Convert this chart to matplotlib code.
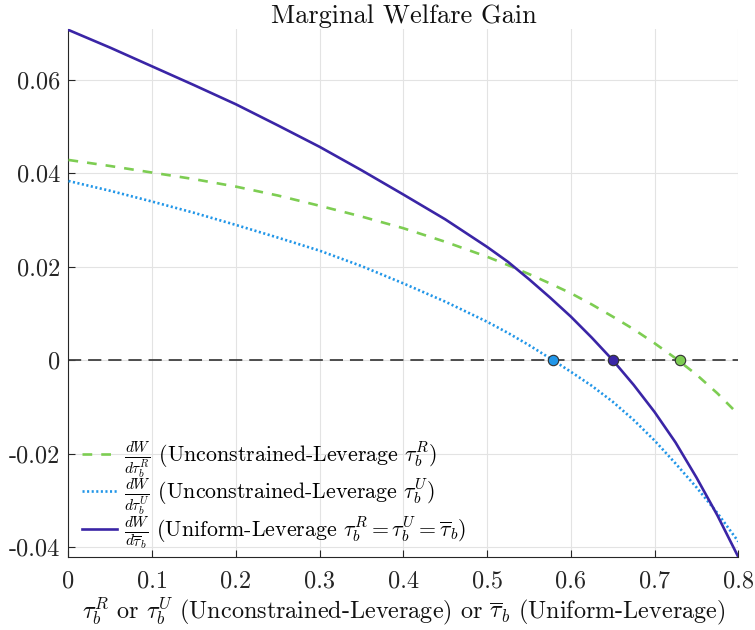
import matplotlib
matplotlib.use("Agg")
import matplotlib.pyplot as plt

plt.rcParams['font.family'] = ['cmr10']
plt.rcParams['mathtext.fontset'] = 'cm'
plt.rcParams['axes.unicode_minus'] = False
plt.rcParams['lines.scale_dashes'] = False

# ---- data ----
x_vals = [0, 0.05, 0.1, 0.15, 0.2, 0.25, 0.3, 0.35, 0.4, 0.45, 0.5,
          0.525, 0.55, 0.575, 0.6, 0.625, 0.65, 0.675, 0.7, 0.725, 0.75, 0.775, 0.8]
uniform = [0.0706, 0.0668, 0.0628, 0.0588, 0.0547, 0.0502, 0.0456, 0.0406,
           0.0354, 0.0301, 0.0242,
           0.0210, 0.0173, 0.0134, 0.0093, 0.0048, 0.0000, -0.0053, -0.0111,
           -0.0176, -0.0251, -0.0332, -0.0421]
tau_R = [0.0428, 0.0415, 0.0401, 0.0387, 0.0371, 0.0352, 0.0330, 0.0307,
         0.0282, 0.0253, 0.0221,
         0.0203, 0.0184, 0.0164, 0.0143, 0.0119, 0.0093, 0.0066, 0.0036,
         0.0004, -0.0031, -0.0071, -0.0116]
tau_U = [0.0383, 0.0362, 0.0339, 0.0315, 0.0289, 0.0262, 0.0234, 0.0201,
         0.0164, 0.0125, 0.0082,
         0.0058, 0.0032, 0.0004, -0.0025, -0.0055, -0.0089, -0.0128, -0.0172,
         -0.0221, -0.0272, -0.0327, -0.0388]
zero_R = 0.730
zero_U = 0.5787
zero_uniform = 0.6505

x_ticks = [0, 0.1, 0.2, 0.3, 0.4, 0.5, 0.6, 0.7, 0.8]
x_ticklabels = ['0', '0.1', '0.2', '0.3', '0.4', '0.5', '0.6', '0.7', '0.8']
y_ticks = [-0.04, -0.02, 0, 0.02, 0.04, 0.06]
y_ticklabels = ['-0.04', '-0.02', '0', '0.02', '0.04', '0.06']

labels = [r'$\frac{dW}{d\tau_b^R}$ (Unconstrained-Leverage $\tau_b^R$)',
          r'$\frac{dW}{d\tau_b^U}$ (Unconstrained-Leverage $\tau_b^U$)',
          r'$\frac{dW}{d\overline{\tau}_b}$ (Uniform-Leverage $\tau_b^R = \tau_b^U = \overline{\tau}_b$)']

c_green = '#7DCD52'
c_blue = '#2196E8'
c_purple = '#3A25A6'

fig = plt.figure(figsize=(7.55, 6.3), dpi=100)
ax = fig.add_axes([0.0907, 0.1159, 0.8872, 0.8373])

ax.axhline(0, color='#404040', lw=1.3, dashes=(9.5, 5), zorder=2)

ax.plot(x_vals, tau_R, color=c_green, lw=1.9, dashes=(7, 6.5), label=labels[0], zorder=3)
ax.plot(x_vals, tau_U, color=c_blue, lw=1.9, dashes=(1.5, 1.8), label=labels[1], zorder=3)
ax.plot(x_vals, uniform, color=c_purple, lw=1.9, label=labels[2], zorder=3,
        solid_joinstyle='round')

for xz, c in [(zero_U, c_blue), (zero_uniform, c_purple), (zero_R, c_green)]:
    ax.plot([xz], [0], 'o', ms=7.5, mfc=c, mec='#303030', mew=0.8, zorder=5)

ax.set_xlim(0, 0.8)
ax.set_ylim(-0.0421, 0.0707)
ax.set_xticks(x_ticks)
ax.set_xticklabels(x_ticklabels)
ax.set_yticks(y_ticks)
ax.set_yticklabels(y_ticklabels)
ax.tick_params(direction='in', length=5, width=0.8, color='#262626',
               labelsize=17.5, labelcolor='#262626')
ax.tick_params(axis='x', pad=10)
ax.tick_params(axis='y', pad=6)
ax.grid(True, color='#e3e3e3', lw=0.8)
ax.set_axisbelow(True)
for s in ['top', 'right']:
    ax.spines[s].set_visible(False)
for s in ['left', 'bottom']:
    ax.spines[s].set_color('#262626')
    ax.spines[s].set_linewidth(0.8)

ax.set_title('Marginal Welfare Gain', fontsize=19, pad=5, color='#111111')
ax.set_xlabel(r'$\tau_b^R$ or $\tau_b^U$ (Unconstrained-Leverage) or $\overline{\tau}_b$ (Uniform-Leverage)',
              fontsize=17.4, labelpad=2, color='#111111')

leg = ax.legend(loc='lower left', bbox_to_anchor=(0.0205, 0.0109), frameon=False,
                fontsize=15.75, handlelength=1.6, handletextpad=0.3,
                labelspacing=-0.12, borderaxespad=0, borderpad=0)

fig.savefig('out.png', dpi=100)
